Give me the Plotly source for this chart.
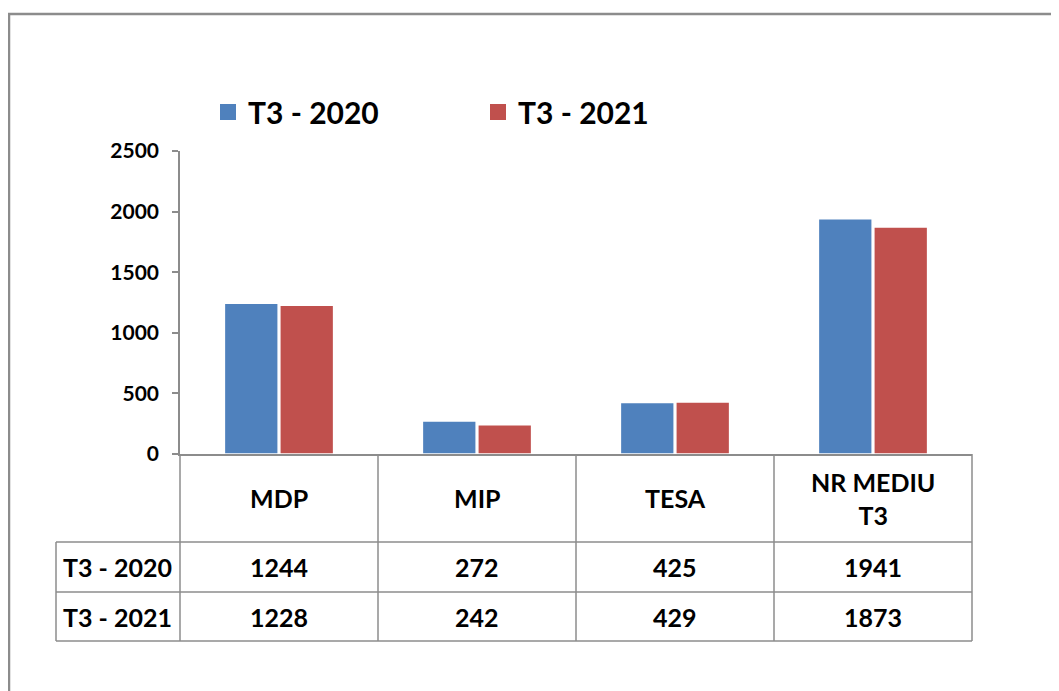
import plotly.graph_objects as go

categorii = ['MDP', 'MIP', 'TESA', 'NR MEDIU<br>T3']
serii = ['T3 - 2020', 'T3 - 2021']
valori_2020 = [1244, 272, 425, 1941]
valori_2021 = [1228, 242, 429, 1873]
culori = ['#4F81BD', '#C0504D']

# pagina are o margine implicita de 8px, deci figura e putin mai mica
OFF = 8
W, H = 1059 - OFF, 691 - OFF
ML, MR, MT, MB = 180 - OFF, 87, 151 - OFF, 237
PW, PH = W - ML - MR, H - MT - MB
GRI = '#8C8C8C'
FONT = 'Lato'


def px(x):
    # pixel din imaginea de referinta -> paper (orizontal)
    return (x - OFF - ML) / PW


def py(y):
    # pixel din imaginea de referinta -> paper (vertical)
    return (H - MB - (y - OFF)) / PH


fig = go.Figure()

for nume, vals, cul in zip(serii, [valori_2020, valori_2021], culori):
    fig.add_trace(go.Bar(
        x=categorii,
        y=vals,
        name=nume,
        marker=dict(color=cul, line=dict(color='white', width=1.5)),
        showlegend=False,
    ))
    # simbol de legenda mai mare decat cel implicit al barelor
    fig.add_trace(go.Scatter(
        x=[None], y=[None],
        mode='markers',
        name=nume,
        marker=dict(symbol='square', size=20, color=cul),
        showlegend=True,
    ))

# tabelul de date de sub grafic
n = len(categorii)
y_cap, y_r1, y_r2, y_jos = 454, 542, 592, 641
x_stanga = 56
shapes = []
for k in range(n + 1):
    shapes.append(dict(type='line', xref='paper', yref='paper',
                       x0=k / n, x1=k / n, y0=py(y_cap), y1=py(y_jos),
                       line=dict(color=GRI, width=1.5)))
shapes.append(dict(type='line', xref='paper', yref='paper',
                   x0=px(x_stanga), x1=px(x_stanga), y0=py(y_r1), y1=py(y_jos),
                   line=dict(color=GRI, width=1.5)))
for yy in [y_r1, y_r2, y_jos]:
    shapes.append(dict(type='line', xref='paper', yref='paper',
                       x0=px(x_stanga), x1=1, y0=py(yy), y1=py(yy),
                       line=dict(color=GRI, width=1.5)))
# chenarul exterior
shapes.append(dict(type='rect', xref='paper', yref='paper',
                   x0=px(9), x1=px(1080), y0=py(14), y1=py(720),
                   line=dict(color=GRI, width=2.5)))

font_tabel = dict(family=FONT, size=25, color='black', weight='bold')
annotations = []
for cat in categorii:
    annotations.append(dict(x=cat, xref='x', y=py((y_cap + y_r1) / 2), yref='paper',
                            text=cat, showarrow=False, font=font_tabel,
                            xanchor='center', yanchor='middle'))
for nume, vals, y0, y1 in [(serii[0], valori_2020, y_r1, y_r2),
                           (serii[1], valori_2021, y_r2, y_jos)]:
    ym = py((y0 + y1) / 2)
    annotations.append(dict(x=px(117), xref='paper', y=ym, yref='paper',
                            text=nume, showarrow=False, font=font_tabel,
                            xanchor='center', yanchor='middle'))
    for cat, v in zip(categorii, vals):
        annotations.append(dict(x=cat, xref='x', y=ym, yref='paper',
                                text=str(v), showarrow=False, font=font_tabel,
                                xanchor='center', yanchor='middle'))

fig.update_layout(
    width=W, height=H, autosize=False,
    margin=dict(l=ML, r=MR, t=MT, b=MB),
    paper_bgcolor='white',
    plot_bgcolor='white',
    barmode='group',
    bargap=0.44,
    bargroupgap=0.03,
    font=dict(family=FONT, color='black'),
    legend=dict(
        orientation='h',
        x=px(208), xanchor='left',
        y=py(112), yanchor='middle',
        font=dict(family=FONT, size=30, color='black', weight='bold'),
        entrywidth=225, entrywidthmode='pixels',
        itemsizing='trace',
        bgcolor='rgba(0,0,0,0)',
    ),
    shapes=shapes,
    annotations=annotations,
)

fig.update_xaxes(
    showticklabels=False,
    ticks='',
    showline=True, linecolor=GRI, linewidth=1.5,
    showgrid=False, zeroline=False,
)

fig.update_yaxes(
    range=[0, 2500],
    dtick=500,
    ticks='outside', ticklen=6, tickcolor=GRI, tickwidth=1.5,
    ticklabelstandoff=9,
    tickfont=dict(family=FONT, size=21, color='black', weight='bold'),
    showline=True, linecolor=GRI, linewidth=1.5,
    showgrid=False, zeroline=False,
)

fig.write_html("out.html")
